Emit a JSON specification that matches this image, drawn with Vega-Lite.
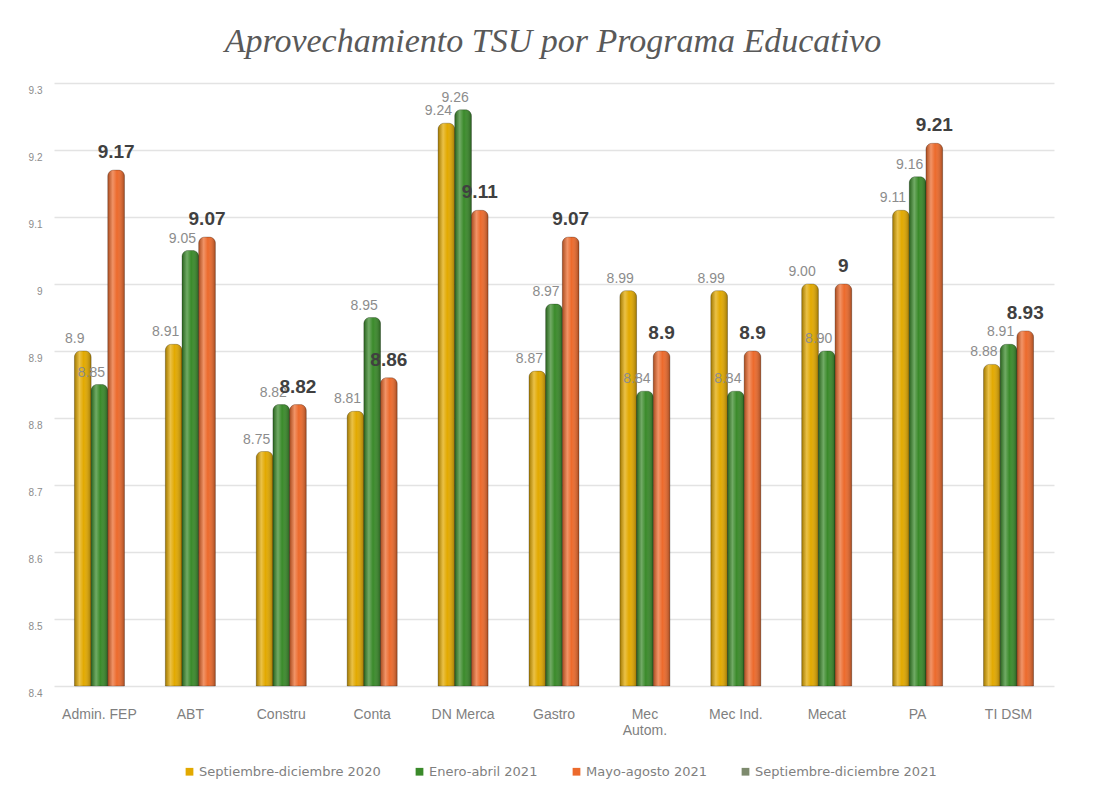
{
  "$schema": "https://vega.github.io/schema/vega-lite/v6.json",
  "autosize": "none",
  "width": 1000,
  "height": 603,
  "padding": {"left": 54, "top": 83, "right": 40, "bottom": 113},
  "background": "white",
  "config": {"view": {"stroke": null}},
  "title": {
    "text": "Aprovechamiento TSU por Programa Educativo",
    "font": "Liberation Serif",
    "fontStyle": "italic",
    "fontWeight": "normal",
    "fontSize": 34,
    "color": "#595959",
    "anchor": "middle",
    "baseline": "alphabetic",
    "offset": -3,
    "dx": -1
  },
  "data": {
    "values": [
      {"prog": "Admin. FEP", "serie": "Septiembre-diciembre 2020", "valor": 8.9, "etiqueta": "8.9"},
      {"prog": "Admin. FEP", "serie": "Enero-abril 2021", "valor": 8.85, "etiqueta": "8.85"},
      {"prog": "Admin. FEP", "serie": "Mayo-agosto 2021", "valor": 9.17, "etiqueta": "9.17"},
      {"prog": "ABT", "serie": "Septiembre-diciembre 2020", "valor": 8.91, "etiqueta": "8.91"},
      {"prog": "ABT", "serie": "Enero-abril 2021", "valor": 9.05, "etiqueta": "9.05"},
      {"prog": "ABT", "serie": "Mayo-agosto 2021", "valor": 9.07, "etiqueta": "9.07"},
      {"prog": "Constru", "serie": "Septiembre-diciembre 2020", "valor": 8.75, "etiqueta": "8.75"},
      {"prog": "Constru", "serie": "Enero-abril 2021", "valor": 8.82, "etiqueta": "8.82"},
      {"prog": "Constru", "serie": "Mayo-agosto 2021", "valor": 8.82, "etiqueta": "8.82"},
      {"prog": "Conta", "serie": "Septiembre-diciembre 2020", "valor": 8.81, "etiqueta": "8.81"},
      {"prog": "Conta", "serie": "Enero-abril 2021", "valor": 8.95, "etiqueta": "8.95"},
      {"prog": "Conta", "serie": "Mayo-agosto 2021", "valor": 8.86, "etiqueta": "8.86"},
      {"prog": "DN Merca", "serie": "Septiembre-diciembre 2020", "valor": 9.24, "etiqueta": "9.24"},
      {"prog": "DN Merca", "serie": "Enero-abril 2021", "valor": 9.26, "etiqueta": "9.26"},
      {"prog": "DN Merca", "serie": "Mayo-agosto 2021", "valor": 9.11, "etiqueta": "9.11"},
      {"prog": "Gastro", "serie": "Septiembre-diciembre 2020", "valor": 8.87, "etiqueta": "8.87"},
      {"prog": "Gastro", "serie": "Enero-abril 2021", "valor": 8.97, "etiqueta": "8.97"},
      {"prog": "Gastro", "serie": "Mayo-agosto 2021", "valor": 9.07, "etiqueta": "9.07"},
      {"prog": "Mec Autom.", "serie": "Septiembre-diciembre 2020", "valor": 8.99, "etiqueta": "8.99"},
      {"prog": "Mec Autom.", "serie": "Enero-abril 2021", "valor": 8.84, "etiqueta": "8.84"},
      {"prog": "Mec Autom.", "serie": "Mayo-agosto 2021", "valor": 8.9, "etiqueta": "8.9"},
      {"prog": "Mec Ind.", "serie": "Septiembre-diciembre 2020", "valor": 8.99, "etiqueta": "8.99"},
      {"prog": "Mec Ind.", "serie": "Enero-abril 2021", "valor": 8.84, "etiqueta": "8.84"},
      {"prog": "Mec Ind.", "serie": "Mayo-agosto 2021", "valor": 8.9, "etiqueta": "8.9"},
      {"prog": "Mecat", "serie": "Septiembre-diciembre 2020", "valor": 9.0, "etiqueta": "9.00"},
      {"prog": "Mecat", "serie": "Enero-abril 2021", "valor": 8.9, "etiqueta": "8.90"},
      {"prog": "Mecat", "serie": "Mayo-agosto 2021", "valor": 9.0, "etiqueta": "9"},
      {"prog": "PA", "serie": "Septiembre-diciembre 2020", "valor": 9.11, "etiqueta": "9.11"},
      {"prog": "PA", "serie": "Enero-abril 2021", "valor": 9.16, "etiqueta": "9.16"},
      {"prog": "PA", "serie": "Mayo-agosto 2021", "valor": 9.21, "etiqueta": "9.21"},
      {"prog": "TI DSM", "serie": "Septiembre-diciembre 2020", "valor": 8.88, "etiqueta": "8.88"},
      {"prog": "TI DSM", "serie": "Enero-abril 2021", "valor": 8.91, "etiqueta": "8.91"},
      {"prog": "TI DSM", "serie": "Mayo-agosto 2021", "valor": 8.93, "etiqueta": "8.93"}
    ]
  },
  "encoding": {
    "x": {
      "field": "prog",
      "type": "nominal",
      "sort": null,
      "scale": {"paddingInner": 0.45, "paddingOuter": 0.225},
      "axis": {
        "title": null,
        "labelAngle": 0,
        "ticks": false,
        "domain": false,
        "labelPadding": 21,
        "labelFont": "Liberation Sans",
        "labelFontSize": 14,
        "labelColor": "#7f7f7f",
        "labelExpr": "datum.value == 'Mec Autom.' ? ['Mec', 'Autom.'] : datum.value"
      }
    },
    "xOffset": {
      "field": "serie",
      "type": "nominal",
      "scale": {"domain": ["Septiembre-diciembre 2020", "Enero-abril 2021", "Mayo-agosto 2021"], "paddingInner": 0, "paddingOuter": 0}
    },
    "y": {
      "field": "valor",
      "type": "quantitative",
      "scale": {"domain": [8.4, 9.3], "zero": false, "nice": false},
      "axis": {
        "title": null,
        "values": [8.4, 8.5, 8.6, 8.7, 8.8, 8.9, 9.0, 9.1, 9.2, 9.3],
        "labelExpr": "toString(round(datum.value * 10) / 10)",
        "ticks": false,
        "domain": false,
        "labelPadding": 12,
        "labelOffset": 7,
        "labelFont": "Liberation Sans",
        "labelFontSize": 10,
        "labelColor": "#8c8c8c",
        "gridColor": "#e3e3e3",
        "gridWidth": 1.5
      }
    }
  },
  "layer": [
    {
      "mark": {"type": "bar", "stroke": "black", "strokeOpacity": 0.25, "strokeWidth": 1, "cornerRadiusTopLeft": 6, "cornerRadiusTopRight": 6},
      "encoding": {
        "y2": {"datum": 8.4},
        "color": {
          "field": "serie",
          "type": "nominal",
          "scale": {
            "domain": ["Septiembre-diciembre 2020", "Enero-abril 2021", "Mayo-agosto 2021", "Septiembre-diciembre 2021"],
            "range": ["#E2A900", "#3A8A2A", "#EC6A2C", "#7d8a6d"]
          },
          "legend": {
            "title": null,
            "orient": "none",
            "direction": "horizontal",
            "legendX": 129,
            "legendY": 682,
            "symbolType": "square",
            "symbolSize": 60,
            "symbolStrokeWidth": 0,
            "labelFont": "DejaVu Sans",
            "labelFontSize": 13,
            "labelColor": "#7f7f7f",
            "labelLimit": 400,
            "columnPadding": 32,
            "labelOffset": 3
          }
        }
      }
    },
    {
      "mark": {
        "type": "bar",
        "cornerRadiusTopLeft": 6,
        "cornerRadiusTopRight": 6,
        "fill": {
          "gradient": "linear",
          "x1": 0, "y1": 0, "x2": 1, "y2": 0,
          "stops": [
            {"offset": 0, "color": "rgba(0,0,0,0.28)"},
            {"offset": 0.3, "color": "rgba(255,255,255,0.28)"},
            {"offset": 0.55, "color": "rgba(255,255,255,0.0)"},
            {"offset": 1, "color": "rgba(0,0,0,0.3)"}
          ]
        }
      },
      "encoding": {"y2": {"datum": 8.4}}
    },
    {
      "transform": [{"filter": "datum.serie != 'Mayo-agosto 2021'"}],
      "mark": {"type": "text", "baseline": "bottom", "dy": -5, "dx": -8, "font": "Liberation Sans", "fontSize": 14, "fill": "#8c8c8c"},
      "encoding": {"text": {"field": "etiqueta"}}
    },
    {
      "transform": [{"filter": "datum.serie == 'Mayo-agosto 2021'"}],
      "mark": {"type": "text", "baseline": "bottom", "dy": -8, "font": "Liberation Sans", "fontSize": 19, "fontWeight": "bold", "fill": "#404040"},
      "encoding": {"text": {"field": "etiqueta"}}
    }
  ]
}
